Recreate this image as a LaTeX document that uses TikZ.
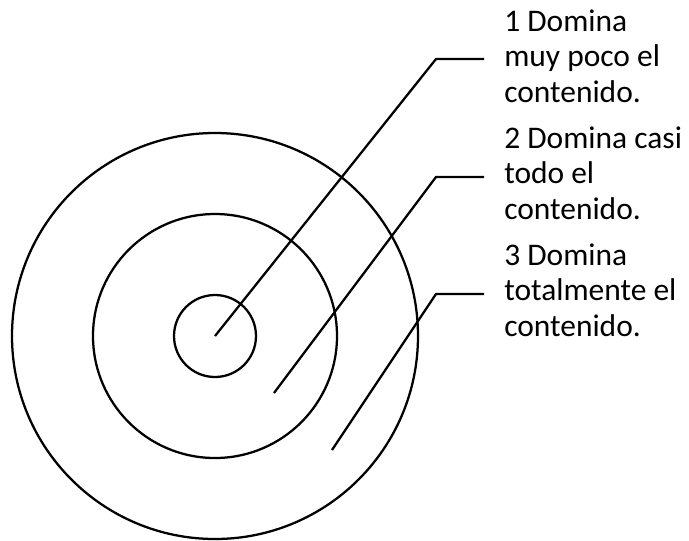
\documentclass[tikz,border=0pt]{standalone}
\usepackage{fontspec}
\setmainfont{Carlito}
\usetikzlibrary{positioning}
\tikzset{ring/.style={circle, draw, line width=1.7pt, inner sep=0}}
\tikzset{lbl/.style={align=left, anchor=west, inner sep=0, font=\fontsize{23.6}{26.5}\selectfont}}
\tikzset{lead/.style={line width=1.7pt, shorten >=15pt}}

\begin{document}
\begin{tikzpicture}[x=0.75pt, y=-0.75pt]
\useasboundingbox (0,0) rectangle (689,540);
% target rings
\node [ring, minimum size=304.5pt] (outer) at (215,336) {};
\node [ring, minimum size=183pt] (middle) at (215,336) {};
\node [ring, minimum size=61.5pt] (inner) at (215,336) {};
% where the leaders start and bend
\coordinate (s2) at (274,393);
\coordinate (s3) at (332,450);
\coordinate (e1) at (436,59);
\coordinate (e2) at (436,177);
\coordinate (e3) at (436,294);
\node [lbl] (t1) at (504,56) {1 Domina\\muy poco el\\contenido.};
\node [lbl] (t2) at (504,173) {2 Domina casi\\todo el\\contenido.};
\node [lbl] (t3) at (504,290) {3 Domina\\totalmente el\\contenido.};
\draw [lead] (inner.center) -- (e1) -- (e1 -| t1.west);
\draw [lead] (s2) -- (e2) -- (e2 -| t2.west);
\draw [lead] (s3) -- (e3) -- (e3 -| t3.west);
\end{tikzpicture}
\end{document}
